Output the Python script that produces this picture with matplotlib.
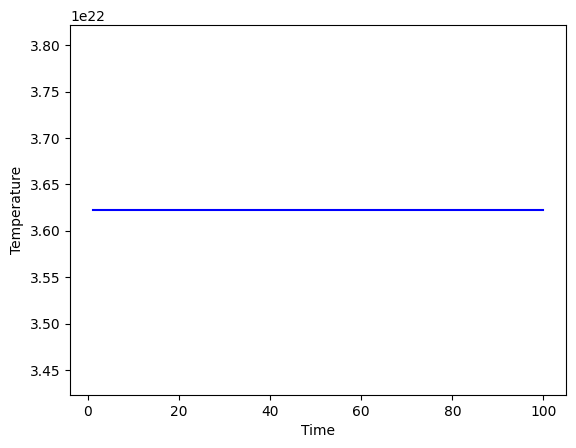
import matplotlib
matplotlib.use("Agg")
import matplotlib.pyplot as plt

# time steps and the (constant) temperature
time = list(range(1, 101))
temperature = [3.6225e22] * len(time)

fig = plt.figure(figsize=(5.76, 4.48), dpi=100)
ax = fig.add_subplot(111)
fig.subplots_adjust(left=70/576, right=566/576, top=1-25/448, bottom=1-395/448)

ax.plot(time, temperature, color="blue")
ax.set_xlabel("Time")
ax.set_ylabel("Temperature")

fig.savefig("out.png", dpi=100)
plt.close(fig)
